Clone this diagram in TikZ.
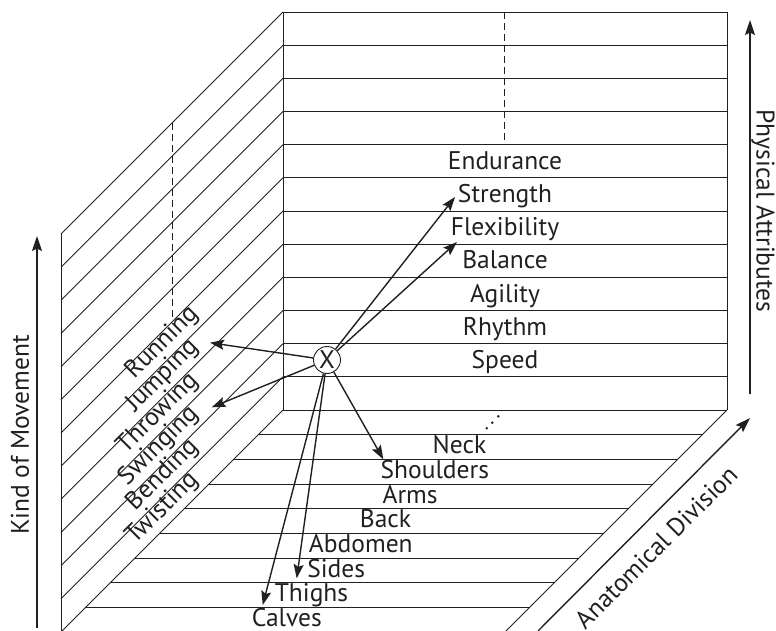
\documentclass[tikz,border=0pt]{standalone}
\usepackage{fontspec}
\setmainfont{PT Sans}
\usetikzlibrary{arrows.meta}
\definecolor{ink}{RGB}{35,31,32}
\begin{document}
\begin{tikzpicture}[x=1pt,y=-1pt,
  gridline/.style={draw=ink,line width=0.9pt},
  dashline/.style={draw=ink,line width=0.9pt,dash pattern=on 7pt off 4pt},
  lab/.style={text=ink,font=\fontsize{25.5}{30}\selectfont,inner sep=0pt},
  arr/.style={draw=ink,line width=1.4pt,-{Stealth[length=14pt,width=10pt,inset=2.5pt]}},
  axis/.style={draw=ink,line width=1.4pt,-{Stealth[length=15pt,width=10pt,inset=2.5pt]}}]
\useasboundingbox (0,0) rectangle (776,631);
% back wall and left wall
\foreach \k in {0,...,12}{
  \pgfmathsetmacro\yy{12+33.1667*\k}
  \draw[gridline] (283,\yy) -- (727,\yy);
  \draw[gridline] (283,\yy) -- (61,{\yy+222});
}
\draw[gridline] (283,12) -- (283,410);
\draw[gridline] (727,12) -- (727,410);
\draw[gridline] (61,234) -- (61,632);
% floor
\foreach \k in {1,...,8}{
  \pgfmathsetmacro\yy{410+24.6667*\k}
  \draw[gridline] ({283-24.6667*\k},\yy) -- ({727-24.6667*\k},\yy);
}
\draw[gridline] (727,410) -- (505,632);
% dashed guides
\draw[dashline] (504,12) -- (504,145);
\draw[dashline] (172,123) -- (172,322);
% ellipsis dots
\fill[ink] (486.7,428.3) circle (1.4) (492.3,422.7) circle (1.4) (498.3,416.3) circle (1.4);
% physical attributes
\foreach \t [count=\i from 0] in {Endurance,Strength,Flexibility,Balance,Agility,Rhythm,Speed}{
  \node[lab,anchor=base] (pa\i) at (505,{12+33.1667*(\i+5)-8.5}) {\t};
}
% anatomical divisions
\foreach \t [count=\i from 0] in {Neck,Shoulders,Arms,Back,Abdomen,Sides,Thighs,Calves}{
  \node[lab,anchor=base] (ad\i) at ({459.5-24.6667*\i},{410+24.6667*(\i+2)-5.5}) {\t};
}
% kinds of movement
\foreach \t [count=\i from 0] in {Running,Jumping,Throwing,Swinging,Bending,Twisting}{
  \node[lab,anchor=base east,rotate=45] (km\i) at (199,{315+33.1667*\i}) {\t};
}
% axes
\coordinate (kmA) at (37,628);
\coordinate (kmB) at (37,236);
\draw[axis] (kmA) -- (kmB);
\node[lab,rotate=90] (kmlab) at (20,435) {Kind of Movement};
\coordinate (paA) at (750,394);
\coordinate (paB) at (750,20);
\draw[axis] (paA) -- (paB);
\node[lab,rotate=-90] (palab) at (763,211) {Physical Attributes};
\coordinate (adA) at (538,631);
\coordinate (adB) at (750,418);
\draw[axis] (adA) -- (adB);
\node[lab,rotate=45] (adlab) at (656,547) {Anatomical Division};
% the point X and its arrows
\node[lab,draw=ink,circle,line width=0.9pt,minimum size=27pt,inner sep=0pt,fill=white] (X) at (327,360) {X};
\coordinate (tRun) at (210,342.7);
\coordinate (tSwi) at (211.7,407.3);
\coordinate (tStr) at (455,197);
\coordinate (tFle) at (457,242);
\coordinate (tSho) at (383.3,459.3);
\coordinate (tSid) at (296.7,578.3);
\coordinate (tThi) at (262.7,605);
\foreach \t in {tRun,tSwi,tStr,tFle,tSho,tSid,tThi}{
  \draw[arr] (X) -- (\t);
}
\end{tikzpicture}
\end{document}
